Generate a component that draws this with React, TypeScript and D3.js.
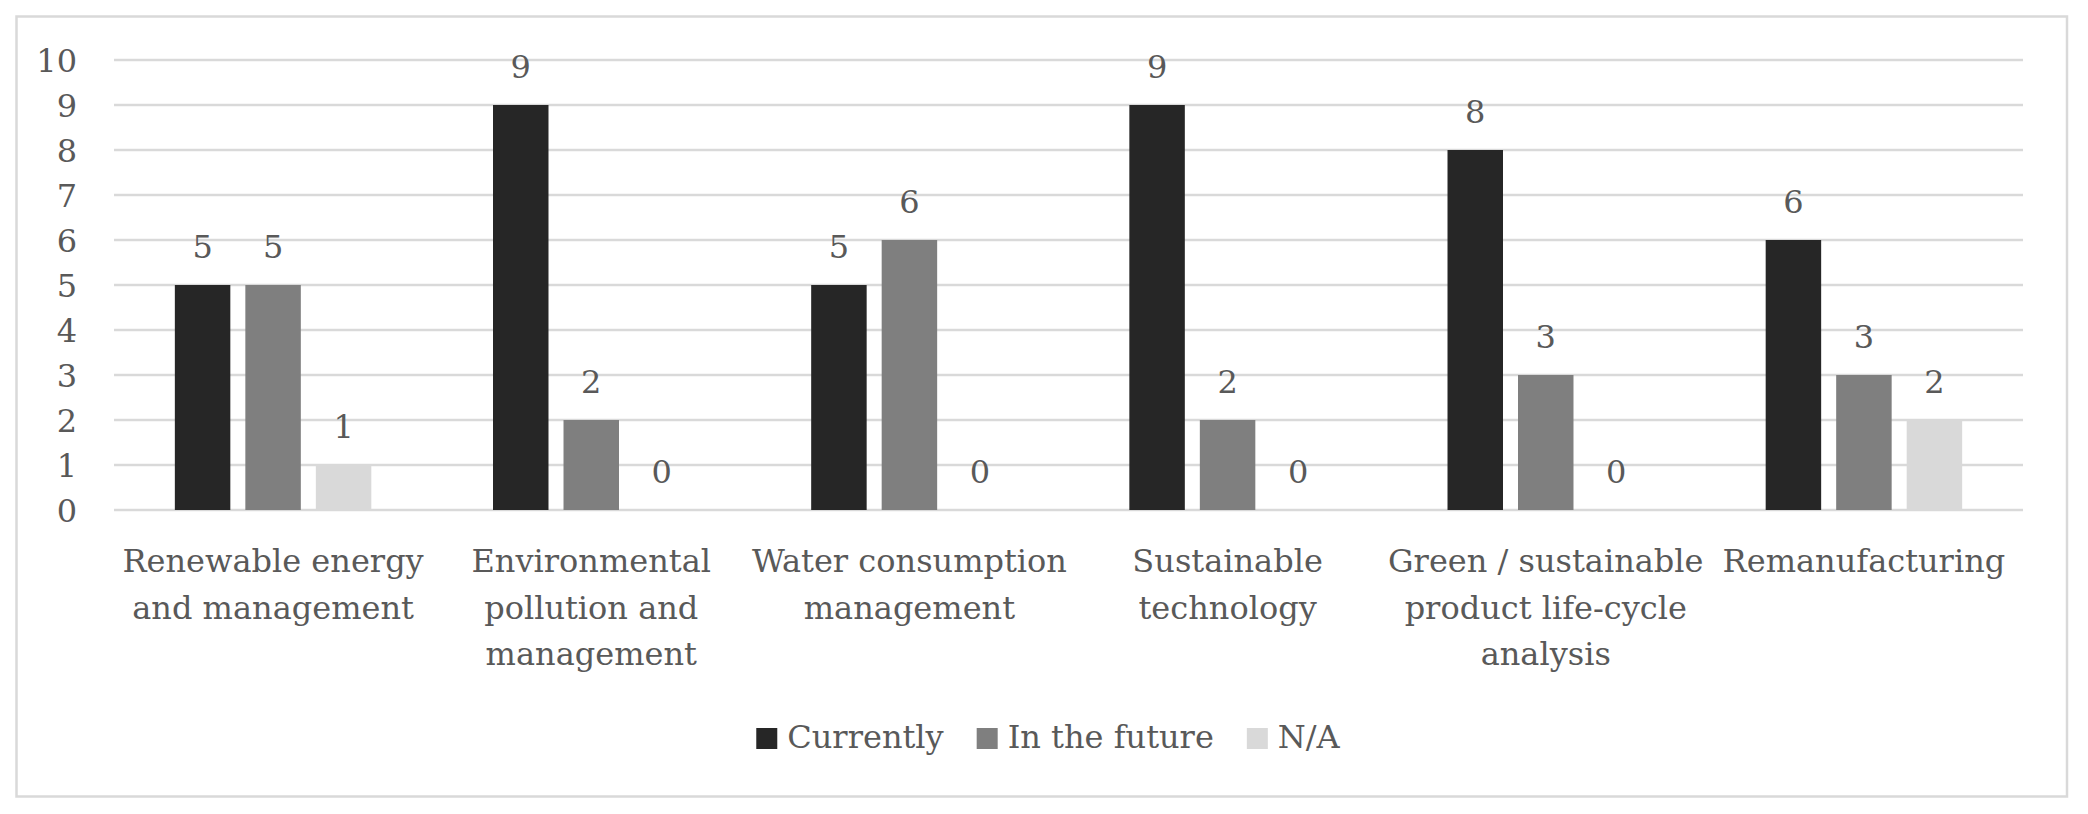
import React from "react";
import * as d3 from "d3";

const categories: string[][] = [
  ["Renewable energy", "and management"],
  ["Environmental", "pollution and", "management"],
  ["Water consumption", "management"],
  ["Sustainable", "technology"],
  ["Green / sustainable", "product life-cycle", "analysis"],
  ["Remanufacturing"],
];
const seriesNames = ["Currently", "In the future", "N/A"];
const currently = [5, 9, 5, 9, 8, 6];
const inTheFuture = [5, 2, 6, 2, 3, 3];
const notApplicable = [1, 0, 0, 0, 0, 2];
const yTicks = [0, 1, 2, 3, 4, 5, 6, 7, 8, 9, 10];
const colors = ["#262626", "#7f7f7f", "#d9d9d9"];

const W = 2088;
const H = 814;
const FONT = "'DejaVu Serif', serif";
const FS = 32;
const TEXT = "#595959";

function measure(text: string): number {
  const c = document.createElement("canvas").getContext("2d");
  if (!c) return text.length * FS * 0.5;
  c.font = `${FS}px ${FONT}`;
  return c.measureText(text).width;
}

export default function App() {
  const series = [currently, inTheFuture, notApplicable];
  const left = 114;
  const right = 2023;
  const y = d3.scaleLinear().domain([0, 10]).range([510, 60]);
  const x0 = d3
    .scaleBand<number>()
    .domain(d3.range(categories.length))
    .range([left, right])
    .paddingInner(0)
    .paddingOuter(0);
  const x1 = d3
    .scaleBand<number>()
    .domain(d3.range(seriesNames.length))
    .range([-105.75, 105.75])
    .paddingInner(0.213)
    .paddingOuter(0.1065);

  // legend layout
  const sq = 21;
  const gapText = 10;
  const gapItem = 33;
  const widths = seriesNames.map((s) => sq + gapText + measure(s));
  const total = d3.sum(widths) + gapItem * (seriesNames.length - 1);
  const legendCenter = 1048;
  let lx = legendCenter - total / 2;
  const legendX = widths.map((w) => {
    const v = lx;
    lx += w + gapItem;
    return v;
  });

  return (
    <svg
      width={W}
      height={H}
      style={{ position: "absolute", left: 0, top: 0, background: "#fff" }}
      fontFamily={FONT}
    >
      <rect x={0} y={0} width={W} height={H} fill="#fff" />
      <rect x={16.5} y={16.5} width={2050.5} height={780} fill="none" stroke="#d9d9d9" strokeWidth={2.5} />
      {yTicks.map((t) => (
        <g key={t}>
          <line x1={left} x2={right} y1={y(t)} y2={y(t)} stroke="#d9d9d9" strokeWidth={2.5} />
          <text x={77} y={y(t)} dy="0.36em" textAnchor="end" fontSize={FS} fill={TEXT}>
            {t}
          </text>
        </g>
      ))}
      {categories.map((cat, i) => {
        const cx = (x0(i) as number) + x0.bandwidth() / 2;
        return (
          <g key={i}>
            {series.map((vals, s) => {
              const bx = cx + (x1(s) as number);
              const v = vals[i];
              return (
                <g key={s}>
                  <rect
                    x={bx}
                    y={y(v)}
                    width={x1.bandwidth()}
                    height={y(0) - y(v)}
                    fill={colors[s]}
                  />
                  <text
                    x={bx + x1.bandwidth() / 2}
                    y={y(v) - 27}
                    textAnchor="middle"
                    fontSize={FS}
                    fill={TEXT}
                  >
                    {v}
                  </text>
                </g>
              );
            })}
            {cat.map((line, k) => (
              <text
                key={k}
                x={cx}
                y={572 + k * 46.5}
                textAnchor="middle"
                fontSize={FS}
                fill={TEXT}
              >
                {line}
              </text>
            ))}
          </g>
        );
      })}
      {seriesNames.map((s, i) => (
        <g key={s}>
          <rect x={legendX[i]} y={728} width={sq} height={sq} fill={colors[i]} />
          <text x={legendX[i] + sq + gapText} y={748} fontSize={FS} fill={TEXT}>
            {s}
          </text>
        </g>
      ))}
    </svg>
  );
}
